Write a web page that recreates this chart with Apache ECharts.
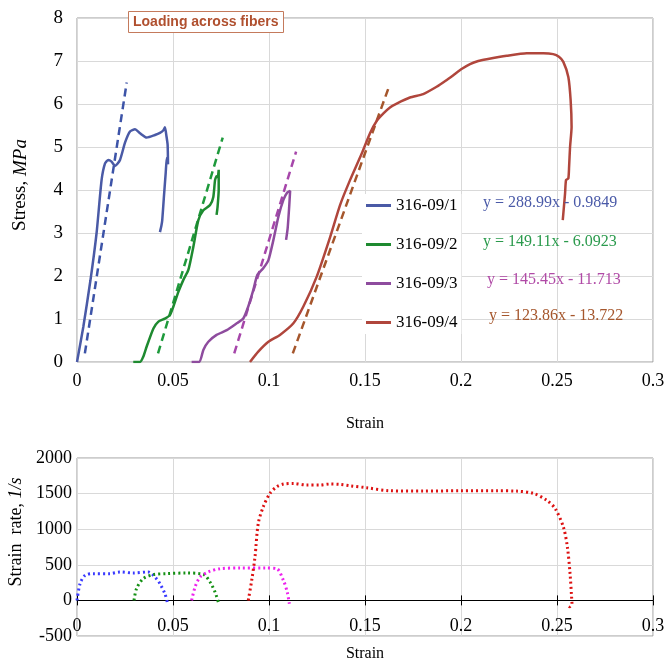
<!DOCTYPE html>
<html><head><meta charset="utf-8">
<script src="https://cdn.jsdelivr.net/npm/echarts@6/dist/echarts.min.js"></script>
<style>html,body{margin:0;padding:0;background:#fff}#c{width:664px;height:658px}</style>
</head><body><div id="c"></div>
<script>
// ---------- data ----------
const seriesNames = ['316-09/1', '316-09/2', '316-09/3', '316-09/4'];

const strain1 = [0, 0.0033, 0.0070, 0.0102, 0.0128, 0.0146, 0.0163, 0.0180, 0.0198, 0.0224, 0.0250, 0.0276, 0.0302, 0.0328, 0.0363, 0.0406, 0.0432, 0.0450, 0.0458, 0.0466, 0.0472, 0.0474, 0.0468, 0.0462, 0.0452, 0.0444, 0.0440, 0.0432];
const stress1 = [0, 0.82, 1.90, 3.00, 4.23, 4.62, 4.70, 4.66, 4.56, 4.70, 5.10, 5.36, 5.41, 5.32, 5.22, 5.28, 5.33, 5.39, 5.46, 5.25, 5.05, 4.60, 4.75, 4.40, 3.80, 3.30, 3.18, 3.02];

const strain2 = [0.0293, 0.0328, 0.0345, 0.0363, 0.0398, 0.0424, 0.0458, 0.0484, 0.0502, 0.0528, 0.0554, 0.0580, 0.0606, 0.0632, 0.0658, 0.0693, 0.0710, 0.0719, 0.0727, 0.0733, 0.0738, 0.0738, 0.0732, 0.0727];
const stress2 = [0, 0, 0.12, 0.36, 0.78, 0.94, 1.01, 1.09, 1.29, 1.63, 1.91, 2.14, 2.68, 3.30, 3.53, 3.65, 3.84, 4.23, 4.32, 4.30, 4.47, 4.00, 3.60, 3.42];

const strain3 = [0.0597, 0.0637, 0.0658, 0.0684, 0.0727, 0.0780, 0.0832, 0.0866, 0.0892, 0.0918, 0.0939, 0.0970, 0.0997, 0.1023, 0.1049, 0.1075, 0.1095, 0.1110, 0.1105, 0.1097, 0.1089];
const stress3 = [0, 0, 0.28, 0.47, 0.63, 0.74, 0.90, 1.01, 1.29, 1.67, 2.02, 2.18, 2.37, 2.84, 3.38, 3.77, 3.94, 3.98, 3.60, 3.10, 2.84];

const strain4 = [0.0901, 0.0944, 0.0997, 0.1057, 0.1127, 0.1179, 0.1248, 0.1318, 0.1370, 0.1422, 0.1483, 0.1526, 0.1560, 0.1596, 0.1630, 0.1665, 0.1734, 0.1803, 0.1873, 0.1920, 0.1960, 0.2005, 0.2047, 0.2090, 0.2134, 0.2238, 0.2342, 0.2429, 0.2480, 0.2510, 0.2533, 0.2559, 0.2571, 0.2576, 0.2568, 0.2563, 0.2559, 0.2547, 0.2542, 0.2530];
const stress4 = [0, 0.24, 0.47, 0.63, 0.90, 1.29, 1.98, 2.90, 3.65, 4.23, 4.85, 5.32, 5.60, 5.78, 5.92, 6.01, 6.15, 6.23, 6.40, 6.54, 6.67, 6.82, 6.93, 7.00, 7.04, 7.12, 7.18, 7.18, 7.16, 7.10, 6.98, 6.63, 6.09, 5.47, 5.00, 4.54, 4.27, 4.23, 3.92, 3.30];

// linear-fit (trend) line end points
const trendStrain1 = [0.0041, 0.0259]; const trendStress1 = [0.2, 6.5];
const trendStrain2 = [0.0422, 0.0759]; const trendStress2 = [0.2, 5.22];
const trendStrain3 = [0.0819, 0.1141]; const trendStress3 = [0.2, 4.89];
const trendStrain4 = [0.1124, 0.1628]; const trendStress4 = [0.2, 6.44];
const equations = ['y = 288.99x - 0.9849', 'y = 149.11x - 6.0923', 'y = 145.45x - 11.713', 'y = 123.86x - 13.722'];

// strain rate
const rateStrain1 = [0, 0.0016, 0.0042, 0.0085, 0.0171, 0.0224, 0.0293, 0.0371, 0.0406, 0.0432, 0.0458, 0.0470];
const rate1 = [0, 235, 352, 376, 376, 399, 385, 399, 329, 235, 94, -23];
const rateStrain2 = [0.0297, 0.0310, 0.0345, 0.0398, 0.0467, 0.0571, 0.0658, 0.0693, 0.0719, 0.0736];
const rate2 = [0, 164, 305, 362, 376, 385, 366, 258, 117, -23];
const rateStrain3 = [0.0597, 0.0615, 0.0641, 0.0684, 0.0745, 0.0849, 0.0988, 0.1040, 0.1075, 0.1095, 0.1106];
const rate3 = [0, 188, 329, 399, 446, 455, 455, 446, 282, 117, -47];
const rateStrain4 = [0.0892, 0.0910, 0.0927, 0.0944, 0.0970, 0.1005, 0.1040, 0.1075, 0.1127, 0.1196, 0.1266, 0.1318, 0.1370, 0.1422, 0.1509, 0.1630, 0.1804, 0.1995, 0.2186, 0.2290, 0.2377, 0.2446, 0.2490, 0.2533, 0.2554, 0.2568, 0.2576, 0.2578, 0.2566, 0.2556];
const rate4 = [0, 282, 610, 1080, 1314, 1503, 1596, 1634, 1643, 1620, 1620, 1634, 1629, 1610, 1582, 1540, 1535, 1540, 1540, 1535, 1503, 1408, 1291, 1033, 751, 376, 47, -50, -90, -70];

// ---------- styling ----------
const serif = '"Liberation Serif", "Times New Roman", serif';
const solidColors = ['#4a5aa6', '#1e8a30', '#8e4c9e', '#b0463c'];
const dashColors = ['#3d54a8', '#1e9a3c', '#a646aa', '#a5562c'];
const eqColors = ['#4a5aa8', '#2a9a4c', '#b04aa6', '#a5562c'];
const rateColors = ['#3a3aff', '#149014', '#ee22ee', '#dd1111'];
const eqPos = [[483, 195], [483, 234], [487, 272], [489, 308]];

const pairs = (xs, ys) => xs.map((x, i) => [x, ys[i]]);
const curves = [[strain1, stress1], [strain2, stress2], [strain3, stress3], [strain4, stress4]];
const trends = [[trendStrain1, trendStress1], [trendStrain2, trendStress2], [trendStrain3, trendStress3], [trendStrain4, trendStress4]];
const rates = [[rateStrain1, rate1], [rateStrain2, rate2], [rateStrain3, rate3], [rateStrain4, rate4]];

const series = [];
curves.forEach((c, i) => series.push({
  name: seriesNames[i], type: 'line', xAxisIndex: 0, yAxisIndex: 0,
  data: pairs(c[0], c[1]), symbol: 'none', smooth: 0.2, z: 3,
  lineStyle: { color: solidColors[i], width: 2.5 }, itemStyle: { color: solidColors[i] }
}));
trends.forEach((c, i) => series.push({
  name: 'fit' + (i + 1), type: 'line', xAxisIndex: 0, yAxisIndex: 0,
  data: pairs(c[0], c[1]), symbol: 'none', z: 2,
  lineStyle: { color: dashColors[i], width: 2.5, type: [8, 5] }
}));
rates.forEach((c, i) => series.push({
  name: 'rate' + (i + 1), type: 'line', xAxisIndex: 1, yAxisIndex: 1,
  data: pairs(c[0], c[1]), symbol: 'none', smooth: 0.3, z: 3,
  lineStyle: { color: rateColors[i], width: 3, type: [2, 3] }
}));

const plain = v => String(v);
const labelStyle = { color: '#000', fontFamily: serif, fontSize: 18, formatter: plain };
const splitStyle = { show: true, lineStyle: { color: '#d9d9d9', width: 1 } };

const option = {
  animation: false,
  backgroundColor: '#fff',
  title: {
    text: 'Loading across fibers', left: 128, top: 11, padding: [4, 5],
    borderColor: '#c47a5c', borderWidth: 1, backgroundColor: '#fff',
    textStyle: { fontFamily: '"Liberation Sans Narrow", "Arial Narrow", "Liberation Sans", sans-serif', fontWeight: 'bold', fontSize: 14, color: '#b0502f' }
  },
  legend: {
    data: seriesNames, orient: 'vertical', left: 362, top: 194,
    icon: 'rect', itemWidth: 25, itemHeight: 3, itemGap: 22, padding: [3, 4],
    backgroundColor: '#fff',
    textStyle: { fontFamily: serif, fontSize: 17, color: '#000', lineHeight: 17 }
  },
  grid: [
    { left: 77, top: 18, width: 576, height: 344, show: true, borderColor: '#9a9a9a', borderWidth: 1, outerBoundsMode: 'none', containLabel: false },
    { left: 77, top: 458, width: 576, height: 178, show: true, borderColor: '#9a9a9a', borderWidth: 1, outerBoundsMode: 'none', containLabel: false }
  ],
  xAxis: [
    { type: 'value', gridIndex: 0, min: 0, max: 0.3, interval: 0.05,
      axisLine: { show: false }, axisTick: { show: false }, splitLine: splitStyle,
      axisLabel: Object.assign({ margin: 10 }, labelStyle),
      name: 'Strain', nameLocation: 'middle', nameGap: 54,
      nameTextStyle: { fontFamily: serif, fontSize: 16, color: '#000' } },
    { type: 'value', gridIndex: 1, min: 0, max: 0.3, interval: 0.05,
      axisLine: { show: true, onZero: true, lineStyle: { color: '#000', width: 1 } },
      axisTick: { show: true, length: 5, lineStyle: { color: '#000' } }, splitLine: splitStyle,
      axisLabel: Object.assign({ margin: -19 }, labelStyle),
      name: 'Strain', nameLocation: 'middle', nameGap: 10,
      nameTextStyle: { fontFamily: serif, fontSize: 16, color: '#000' } },
    { type: 'value', gridIndex: 1, position: 'bottom', min: 0, max: 0.3, interval: 0.05,
      axisLine: { show: false, onZero: true, onZeroAxisIndex: 2 },
      axisTick: { show: true, inside: true, length: 5, lineStyle: { color: '#000' } },
      axisLabel: { show: false }, splitLine: { show: false } }
  ],
  yAxis: [
    { type: 'value', gridIndex: 0, min: 0, max: 8, interval: 1,
      axisLine: { show: false }, axisTick: { show: false }, splitLine: splitStyle,
      axisLabel: Object.assign({ margin: 14 }, labelStyle, { fontSize: 19 }),
      name: '{a|Stress, }{b|MPa}', nameLocation: 'middle', nameGap: 47,
      nameTextStyle: { padding: [0, 0, 0, 10], rich: {
        a: { fontFamily: serif, fontSize: 19, color: '#000' },
        b: { fontFamily: serif, fontSize: 19, fontStyle: 'italic', color: '#000' } } } },
    { type: 'value', gridIndex: 1, min: -500, max: 2000, interval: 500,
      axisLine: { show: false }, axisTick: { show: false }, splitLine: splitStyle,
      axisLabel: Object.assign({ margin: 5 }, labelStyle),
      name: '{a|Strain  rate, }{b|1/s}', nameLocation: 'middle', nameGap: 52,
      nameTextStyle: { padding: [0, 0, 0, 30], rich: {
        a: { fontFamily: serif, fontSize: 18, color: '#000' },
        b: { fontFamily: serif, fontSize: 18, fontStyle: 'italic', color: '#000' } } } },
    { type: 'value', gridIndex: 1, min: -500, max: 2000, interval: 500, show: false }
  ],
  graphic: equations.map((t, i) => ({
    type: 'text', left: eqPos[i][0], top: eqPos[i][1], z: 10,
    style: { text: t, fill: eqColors[i], font: '16px ' + serif }
  })),
  series: series
};

echarts.init(document.getElementById('c'), null, { renderer: 'canvas' }).setOption(option);
</script></body></html>
